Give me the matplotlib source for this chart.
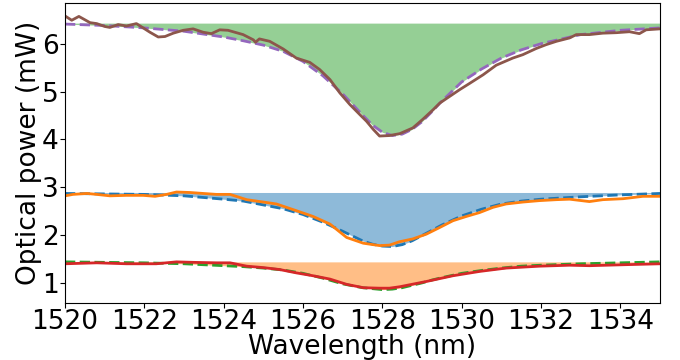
import matplotlib
matplotlib.use("Agg")
import matplotlib.pyplot as plt

# common grid for the fitted (dashed) curves
wl_fit = [1520, 1521, 1522, 1523, 1524, 1524.5, 1525, 1525.5, 1526, 1526.5,
          1527, 1527.25, 1527.5, 1527.75, 1528, 1528.25, 1528.5, 1528.75,
          1529, 1529.25, 1529.5, 1530, 1530.5, 1531, 1531.5, 1532, 1533,
          1534, 1535]
fit_top = [6.41, 6.38, 6.33, 6.26, 6.14, 6.06, 5.97, 5.84, 5.63, 5.33,
           4.95, 4.73, 4.51, 4.30, 4.15, 4.08, 4.11, 4.21,
           4.37, 4.58, 4.80, 5.20, 5.47, 5.70, 5.87, 6.00, 6.19,
           6.28, 6.33]
fit_mid = [2.87, 2.86, 2.85, 2.82, 2.75, 2.71, 2.63, 2.55, 2.43, 2.27,
           2.08, 1.98, 1.88, 1.81, 1.77, 1.76, 1.80, 1.88,
           1.99, 2.10, 2.21, 2.40, 2.54, 2.65, 2.71, 2.75, 2.80,
           2.84, 2.87]
fit_bot = [1.44, 1.43, 1.42, 1.40, 1.36, 1.34, 1.31, 1.27, 1.20, 1.10,
           0.98, 0.94, 0.90, 0.88, 0.86, 0.87, 0.90, 0.95,
           1.00, 1.06, 1.11, 1.20, 1.26, 1.31, 1.35, 1.37, 1.40,
           1.42, 1.44]

# baselines of the shaded areas
base_top = 6.43
base_mid = 2.89
base_bot = 1.44

# measured traces
wl_top = [1520.0, 1520.17, 1520.35, 1520.63, 1520.8, 1521.0, 1521.13, 1521.34,
          1521.55, 1521.8, 1521.97, 1522.14, 1522.35, 1522.52, 1522.73, 1522.98,
          1523.23, 1523.48, 1523.69, 1523.9, 1524.11, 1524.49, 1524.75, 1524.8,
          1524.9, 1525.16, 1525.5, 1525.83, 1526.17, 1526.42, 1526.68, 1526.93,
          1527.18, 1527.43, 1527.6, 1527.77, 1527.93, 1528.18, 1528.44, 1528.77,
          1529.02, 1529.28, 1529.45, 1529.7, 1529.95, 1530.2, 1530.54, 1530.87,
          1531.29, 1531.54, 1531.88, 1532.13, 1532.39, 1532.72, 1532.89, 1533.22,
          1533.56, 1533.9, 1534.23, 1534.48, 1534.65, 1535.0]
pw_top = [6.58, 6.49, 6.57, 6.44, 6.42, 6.36, 6.34, 6.40,
          6.37, 6.42, 6.33, 6.24, 6.14, 6.15, 6.22, 6.28,
          6.31, 6.24, 6.21, 6.29, 6.28, 6.19, 6.08, 6.03,
          6.10, 6.05, 5.89, 5.70, 5.61, 5.46, 5.25, 4.97,
          4.73, 4.52, 4.38, 4.21, 4.07, 4.08, 4.12, 4.24,
          4.42, 4.62, 4.76, 4.90, 5.04, 5.17, 5.35, 5.55,
          5.70, 5.77, 5.90, 5.98, 6.05, 6.12, 6.19, 6.19,
          6.22, 6.23, 6.25, 6.21, 6.29, 6.31]

wl_mid = [1520.0, 1520.2, 1520.55, 1520.8, 1521.13, 1521.55, 1521.97, 1522.27,
          1522.56, 1522.81, 1523.15, 1523.48, 1523.82, 1524.16, 1524.58, 1525.0,
          1525.33, 1525.83, 1526.25, 1526.68, 1527.1, 1527.52, 1527.93, 1528.18,
          1528.43, 1528.77, 1529.11, 1529.45, 1529.78, 1530.12, 1530.45, 1530.79,
          1531.12, 1531.54, 1531.96, 1532.39, 1532.72, 1533.22, 1533.56, 1534.07,
          1534.57, 1535.0]
pw_mid = [2.82, 2.85, 2.87, 2.85, 2.82, 2.83, 2.83, 2.81,
          2.85, 2.90, 2.89, 2.87, 2.85, 2.85, 2.74, 2.69,
          2.65, 2.51, 2.39, 2.23, 1.95, 1.83, 1.78, 1.79,
          1.86, 1.92, 2.02, 2.16, 2.30, 2.39, 2.47, 2.58,
          2.65, 2.69, 2.72, 2.74, 2.75, 2.70, 2.74, 2.76,
          2.81, 2.81]

wl_bot = [1520.0, 1520.8, 1521.55, 1522.3, 1522.81, 1523.23, 1523.82, 1524.16,
          1524.58, 1525.0, 1525.41, 1525.83, 1526.25, 1526.68, 1527.1, 1527.52,
          1527.93, 1528.18, 1528.44, 1529.11, 1529.78, 1530.45, 1531.12, 1531.96,
          1532.72, 1533.22, 1534.07, 1535.0]
pw_bot = [1.40, 1.42, 1.40, 1.40, 1.44, 1.43, 1.42, 1.42,
          1.35, 1.32, 1.28, 1.21, 1.15, 1.08, 0.97, 0.90,
          0.89, 0.89, 0.92, 1.03, 1.15, 1.24, 1.31, 1.35,
          1.37, 1.36, 1.38, 1.40]

fig = plt.figure(figsize=(6.8, 3.6), dpi=100)
ax = fig.add_axes([0.0956, 0.1583, 0.875, 0.8333])

ax.fill_between(wl_fit, fit_top, base_top, color='tab:green', alpha=0.5, lw=0)
ax.fill_between(wl_fit, fit_mid, base_mid, color='tab:blue', alpha=0.5, lw=0)
ax.fill_between(wl_fit, fit_bot, base_bot, color='tab:orange', alpha=0.5, lw=0)

ax.plot(wl_fit, fit_mid, '--', color='tab:blue', lw=2)
ax.plot(wl_mid, pw_mid, color='tab:orange', lw=2)
ax.plot(wl_fit, fit_bot, '--', color='tab:green', lw=2)
ax.plot(wl_bot, pw_bot, color='tab:red', lw=2)
ax.plot(wl_fit, fit_top, '--', color='tab:purple', lw=2)
ax.plot(wl_top, pw_top, color='tab:brown', lw=2)

ax.set_xlim(1520, 1535)
ax.set_ylim(0.58, 6.85)
ax.set_xticks(range(1520, 1535, 2))
ax.set_yticks([1, 2, 3, 4, 5, 6])
ax.tick_params(labelsize=19, pad=1)
ax.set_xlabel('Wavelength (nm)', fontsize=19, labelpad=-1)
ax.set_ylabel('Optical power (mW)', fontsize=19, labelpad=0)

fig.savefig('out.png', dpi=100)
